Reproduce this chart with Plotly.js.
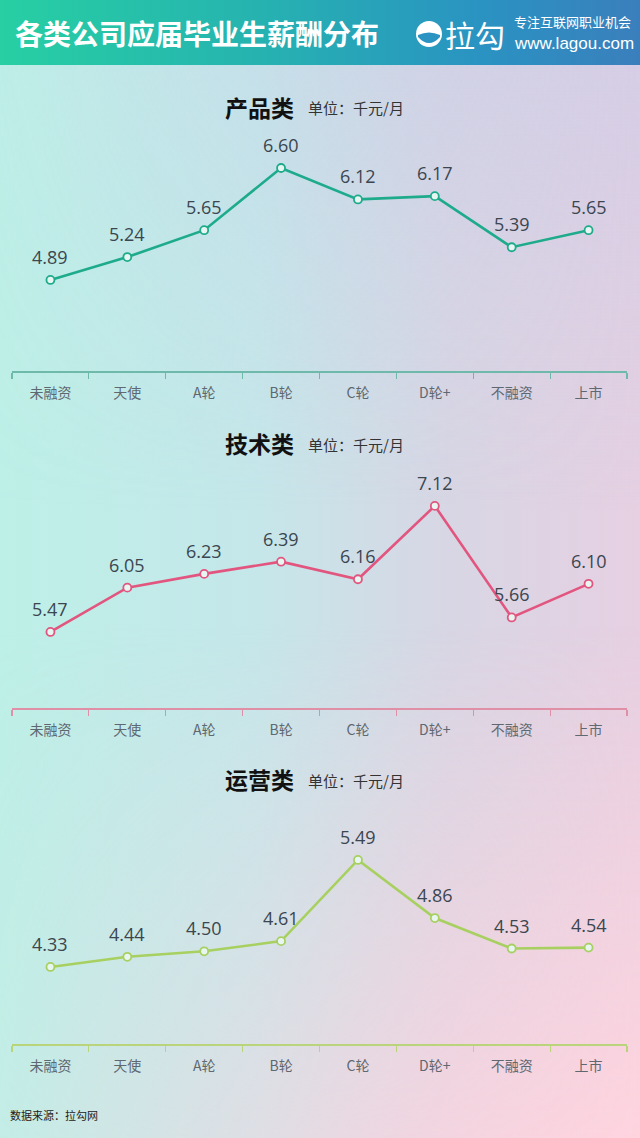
<!DOCTYPE html>
<html>
<head>
<meta charset="utf-8">
<script src="https://cdn.plot.ly/plotly-3.0.1.min.js"></script>
<style>
  html, body { margin: 0; padding: 0; }
  body {
    width: 640px; height: 1138px; overflow: hidden; position: relative;
    font-family: "Noto Sans CJK SC", "Noto Sans", sans-serif;
    background: linear-gradient(90deg, #bdf0e7 0%, #c5e7ea 40%, #d8d6e4 70%, #e6d0e2 100%);
  }
  #bg2 {
    position: absolute; left: 0; top: 0; width: 640px; height: 1138px;
    background: linear-gradient(180deg, rgba(198,204,232,0.6) 0%, rgba(200,205,232,0) 45%, rgba(255,214,224,0) 55%, rgba(255,212,222,0.95) 100%);
    -webkit-mask-image: linear-gradient(90deg, rgba(0,0,0,0.1) 0%, rgba(0,0,0,1) 100%);
    mask-image: linear-gradient(90deg, rgba(0,0,0,0.1) 0%, rgba(0,0,0,1) 100%);
  }
  #head {
    position: absolute; left: 0; top: 0; width: 640px; height: 65px;
    background: linear-gradient(90deg, #27cfa3 0%, #26b3b0 40%, #2a93c2 75%, #3a7fbd 100%);
  }
  #myDiv { position: absolute; left: 0; top: 0; width: 640px; height: 1138px; }
</style>
</head>
<body>
<div id="bg2"></div>
<div id="head"></div>
<div id="myDiv"></div>
<script>
  var categories = ['未融资', '天使', 'A轮', 'B轮', 'C轮', 'D轮+', '不融资', '上市'];
  var product = [4.89, 5.24, 5.65, 6.60, 6.12, 6.17, 5.39, 5.65];
  var tech = [5.47, 6.05, 6.23, 6.39, 6.16, 7.12, 5.66, 6.10];
  var ops = [4.33, 4.44, 4.50, 4.61, 5.49, 4.86, 4.53, 4.54];
  var groupNames = ['产品类', '技术类', '运营类'];
  var unitLabel = '单位：千元/月';

  var H = 1138;
  function py(px) { return 1 - px / H; }

  var series = [product, tech, ops];
  var colors = ['#1eab8c', '#e2557f', '#a7d060'];
  var axisColors = ['#6fb9aa', '#df8fa6', '#b9d47a'];
  // pixel position of the axis line, top of plot, and value range
  var panels = [
    {bottom: 371, top: 130, range: [3.5, 7.18], titleY: 107},
    {bottom: 708, top: 465, range: [4.475, 7.655], titleY: 443},
    {bottom: 1044, top: 800, range: [3.495, 6.14], titleY: 779}
  ];

  var data = [];
  var annotations = [];
  var layout = {
    width: 640, height: 1138,
    margin: {l: 0, r: 0, t: 0, b: 0},
    paper_bgcolor: 'rgba(0,0,0,0)',
    plot_bgcolor: 'rgba(0,0,0,0)',
    showlegend: false,
    font: {family: '"Noto Sans CJK SC", sans-serif'}
  };

  series.forEach(function (vals, i) {
    var n = i === 0 ? '' : String(i + 1);
    var p = panels[i];
    data.push({
      x: categories, y: vals,
      xaxis: 'x' + n, yaxis: 'y' + n,
      type: 'scatter', mode: 'lines+markers',
      line: {color: colors[i], width: 2.6},
      marker: {size: 8, color: '#e8f6f2', line: {color: colors[i], width: 1.8}},
      cliponaxis: false, hoverinfo: 'none'
    });
    vals.forEach(function (v, k) {
      annotations.push({
        x: categories[k], y: v, xref: 'x' + n, yref: 'y' + n,
        text: v.toFixed(2), showarrow: false, yshift: 23,
        font: {size: 18, color: '#3b4650', family: '"Open Sans", "Noto Sans", sans-serif'}
      });
    });
    layout['xaxis' + n] = {
      type: 'category', domain: [12 / 640, 627 / 640], range: [-0.5, 7.5],
      anchor: 'y' + n, showgrid: false, zeroline: false,
      showline: true, linecolor: axisColors[i], linewidth: 1.5,
      ticks: 'outside', tickson: 'boundaries', ticklen: 6, tickcolor: axisColors[i], tickwidth: 1.2,
      ticklabelstandoff: 9,
      tickfont: {size: 14, color: '#5e6870'}, fixedrange: true
    };
    layout['yaxis' + n] = {
      domain: [py(p.bottom), py(p.top)], range: p.range, anchor: 'x' + n,
      visible: false, showgrid: false, zeroline: false, fixedrange: true
    };
    annotations.push({
      x: 296 / 640, y: py(p.titleY), xref: 'paper', yref: 'paper', xanchor: 'right', yanchor: 'middle',
      text: '<b>' + groupNames[i] + '</b>', showarrow: false,
      font: {size: 23, color: '#111111'}
    });
    annotations.push({
      x: 306 / 640, y: py(p.titleY + 1), xref: 'paper', yref: 'paper', xanchor: 'left', yanchor: 'middle',
      text: unitLabel, showarrow: false,
      font: {size: 15, color: '#333333'}
    });
  });

  // header texts
  annotations.push({
    x: 13 / 640, y: py(33), xref: 'paper', yref: 'paper', xanchor: 'left', yanchor: 'middle',
    text: '<b>各类公司应届毕业生薪酬分布</b>', showarrow: false,
    font: {size: 28, color: '#ffffff'}
  });
  annotations.push({
    x: 443 / 640, y: py(34), xref: 'paper', yref: 'paper', xanchor: 'left', yanchor: 'middle',
    text: '拉勾', showarrow: false,
    font: {size: 30, color: '#ffffff'}
  });
  annotations.push({
    x: 512 / 640, y: py(21), xref: 'paper', yref: 'paper', xanchor: 'left', yanchor: 'middle',
    text: '专注互联网职业机会', showarrow: false,
    font: {size: 13, color: '#ffffff'}
  });
  annotations.push({
    x: 512 / 640, y: py(43), xref: 'paper', yref: 'paper', xanchor: 'left', yanchor: 'middle',
    text: 'www.lagou.com', showarrow: false,
    font: {size: 17, color: '#ffffff', family: '"Liberation Sans", sans-serif'}
  });
  annotations.push({
    x: 8 / 640, y: py(1115), xref: 'paper', yref: 'paper', xanchor: 'left', yanchor: 'middle',
    text: '数据来源：拉勾网', showarrow: false,
    font: {size: 11, color: '#222222'}
  });
  layout.annotations = annotations;

  // logo circle
  layout.shapes = [
    {type: 'circle', xref: 'paper', yref: 'paper',
     x0: 416 / 640, x1: 442 / 640, y0: py(47), y1: py(21),
     fillcolor: '#ffffff', line: {width: 0}},
    {type: 'path', xref: 'paper', yref: 'paper',
     path: 'M ' + (418 / 640) + ' ' + py(35) + ' Q ' + (429 / 640) + ' ' + py(30) + ' ' + (440 / 640) + ' ' + py(35) +
           ' L ' + (440 / 640) + ' ' + py(37) + ' Q ' + (429 / 640) + ' ' + py(49) + ' ' + (418 / 640) + ' ' + py(37) + ' Z',
     fillcolor: '#2a93c2', line: {width: 0}}
  ];

  Plotly.newPlot('myDiv', data, layout, {displayModeBar: false, staticPlot: true});
</script>
</body>
</html>
